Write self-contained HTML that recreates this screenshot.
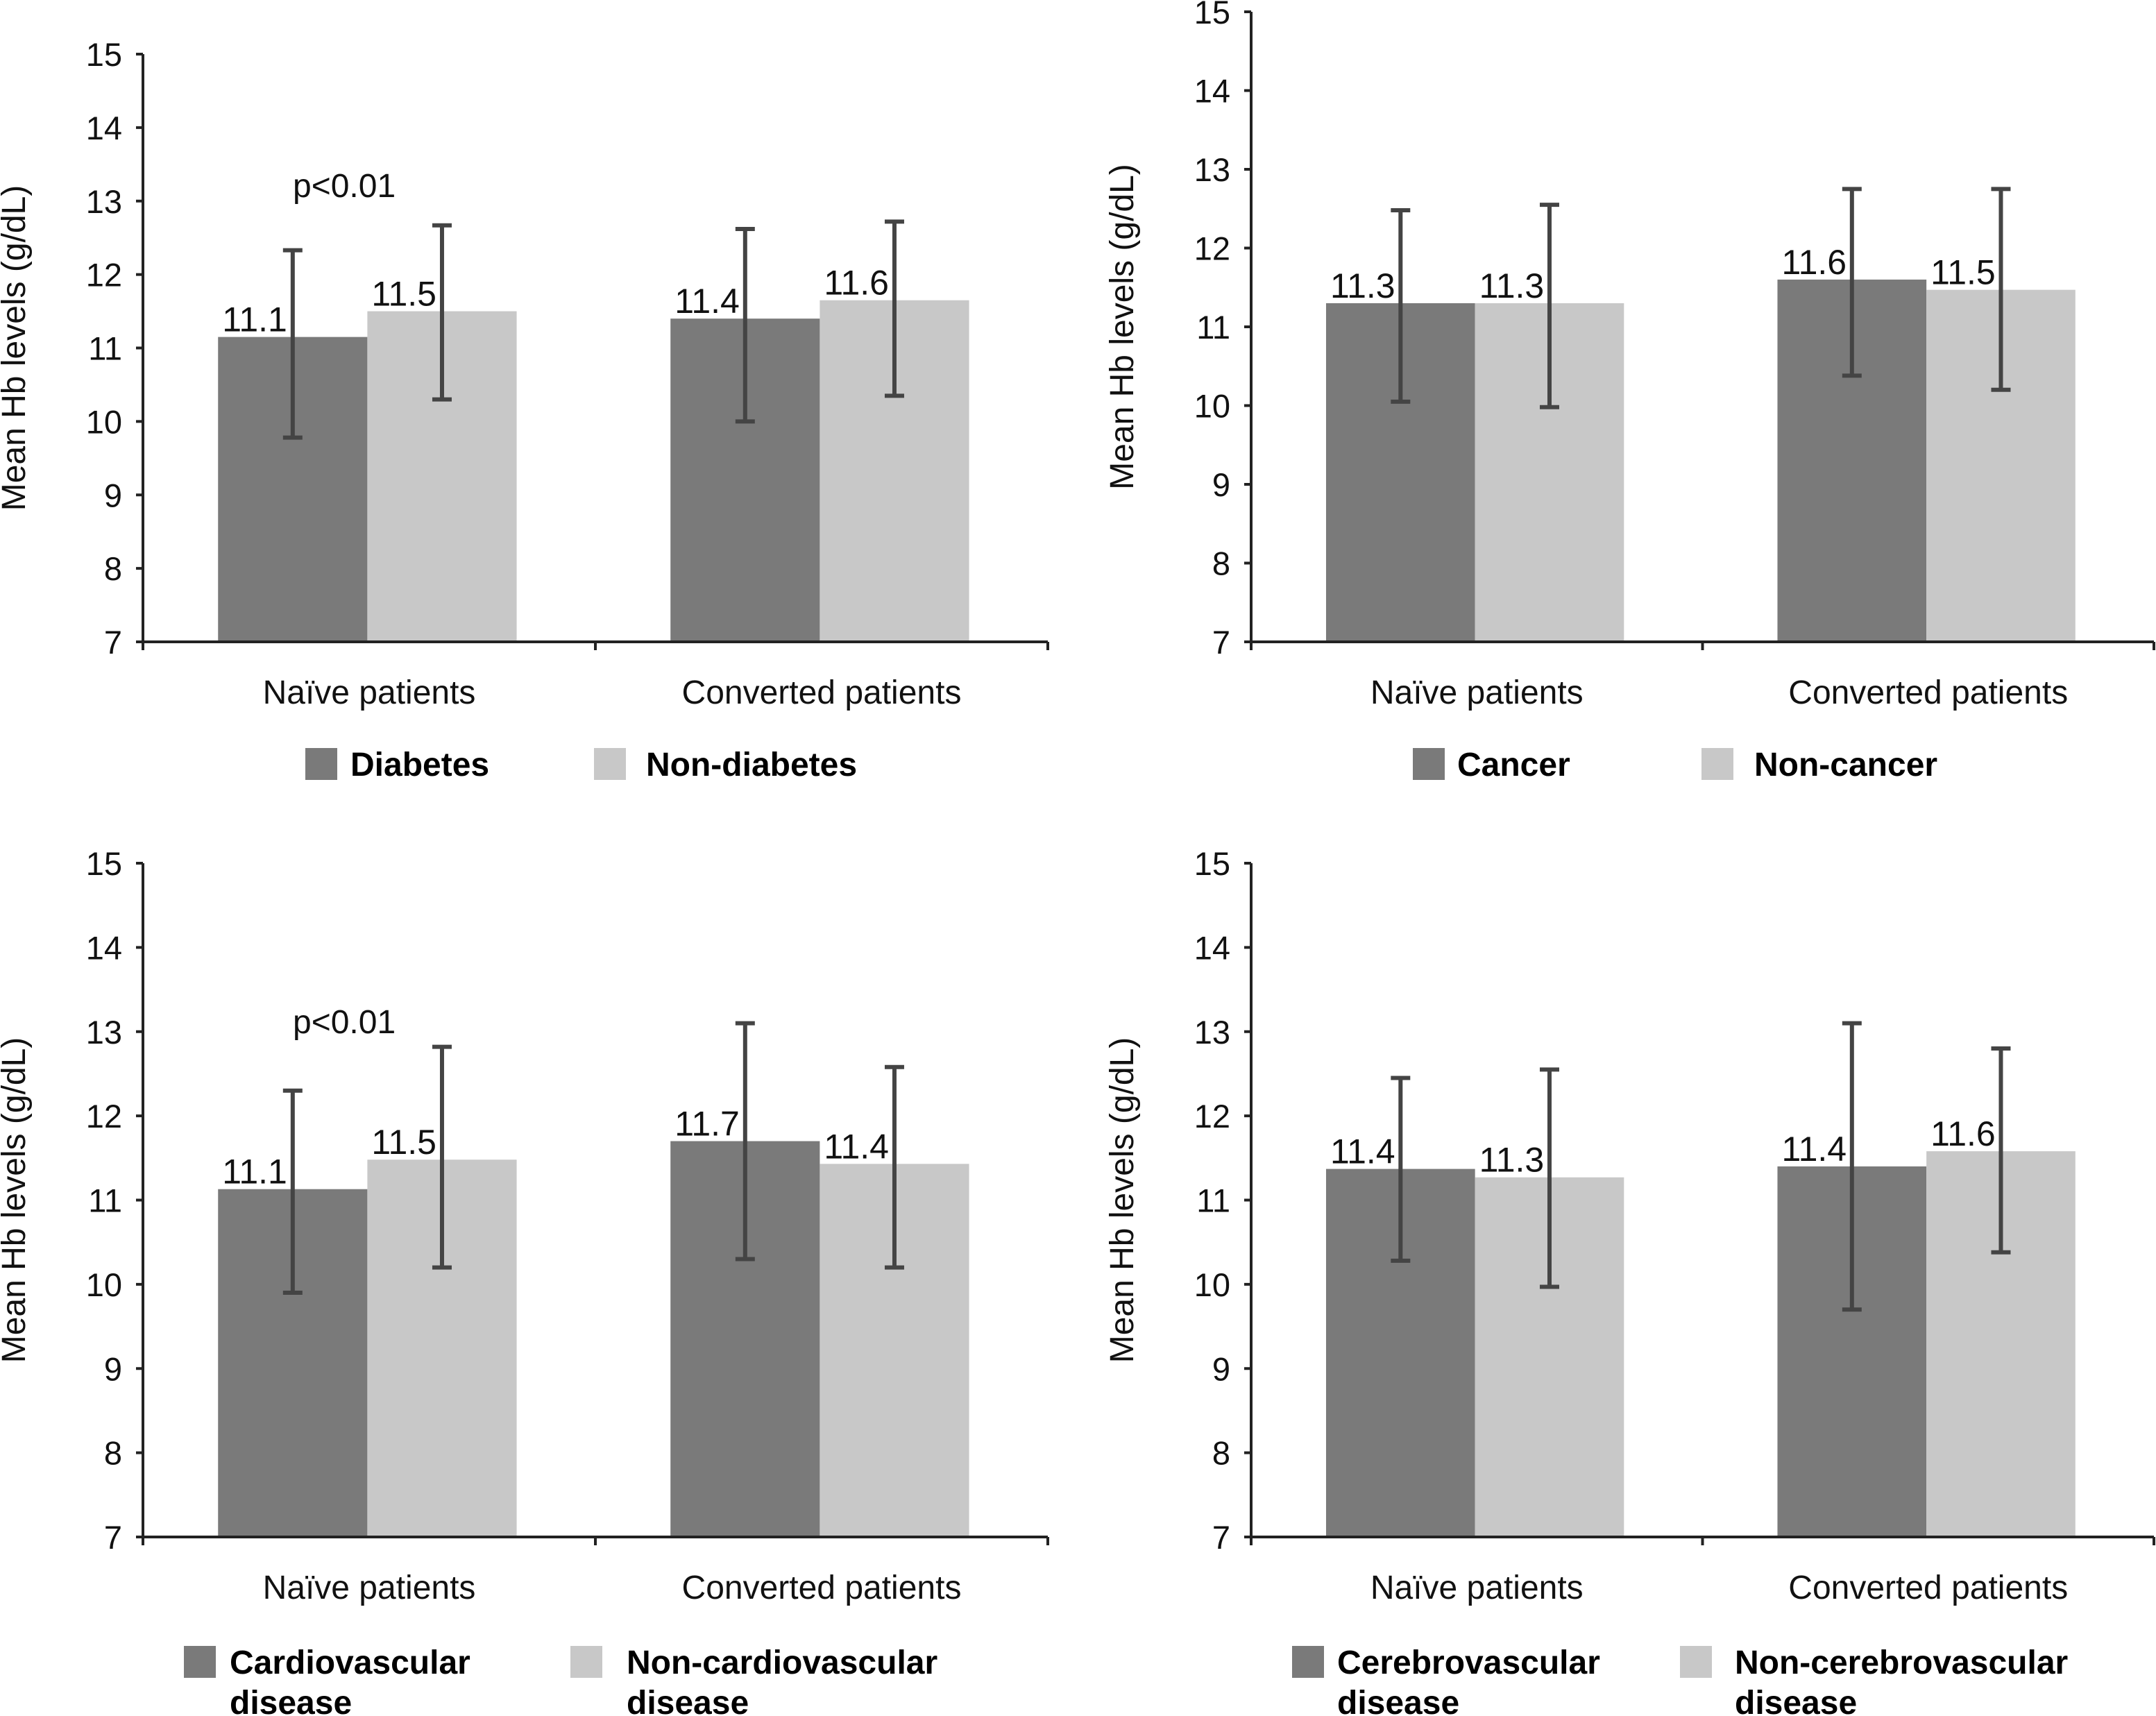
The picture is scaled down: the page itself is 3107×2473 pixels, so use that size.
<!DOCTYPE html>
<html><head><meta charset="utf-8"><style>
html,body{margin:0;padding:0;background:#fff;}
svg{display:block;font-family:"Liberation Sans",Arial,sans-serif;}
</style></head><body>
<svg id="chart" width="3107" height="2473" viewBox="0 0 3107 2473" xmlns="http://www.w3.org/2000/svg"></svg>
<script>
const categories = ["Naïve patients", "Converted patients"];
const tickLabels = [7, 8, 9, 10, 11, 12, 13, 14, 15];
// panel values: [naive group, naive non-group, converted group, converted non-group]
const diabetesMeans = [11.15, 11.5, 11.4, 11.65];
const diabetesLow = [9.78, 10.3, 10.0, 10.35];
const diabetesHigh = [12.33, 12.67, 12.62, 12.72];
const diabetesLabels = ["11.1", "11.5", "11.4", "11.6"];
const cancerMeans = [11.3, 11.3, 11.6, 11.47];
const cancerLow = [10.05, 9.98, 10.38, 10.2];
const cancerHigh = [12.48, 12.55, 12.75, 12.75];
const cancerLabels = ["11.3", "11.3", "11.6", "11.5"];
const cardioMeans = [11.13, 11.48, 11.7, 11.43];
const cardioLow = [9.9, 10.2, 10.3, 10.2];
const cardioHigh = [12.3, 12.82, 13.1, 12.58];
const cardioLabels = ["11.1", "11.5", "11.7", "11.4"];
const cerebroMeans = [11.37, 11.27, 11.4, 11.58];
const cerebroLow = [10.28, 9.97, 9.7, 10.38];
const cerebroHigh = [12.45, 12.55, 13.1, 12.8];
const cerebroLabels = ["11.4", "11.3", "11.4", "11.6"];

const NS = "http://www.w3.org/2000/svg";
const svg = document.getElementById("chart");
function mk(tag, attrs, parent, text) {
  const e = document.createElementNS(NS, tag);
  for (const k in attrs) e.setAttribute(k, attrs[k]);
  if (text !== undefined) e.textContent = text;
  (parent || svg).appendChild(e);
  return e;
}

const panels = [
  {id:"diabetes", x0:206, x1:1510, yTop:78, yBot:925, means:diabetesMeans, lo:diabetesLow, hi:diabetesHigh, labels:diabetesLabels, p:[422,267],
   legend:[{sx:440, tx:505, lines:["Diabetes"]},{sx:856, tx:931, lines:["Non-diabetes"]}], legY:1101, catY:1014},
  {id:"cancer", x0:1803, x1:3104, yTop:17, yBot:925, means:cancerMeans, lo:cancerLow, hi:cancerHigh, labels:cancerLabels, p:null,
   legend:[{sx:2036, tx:2100, lines:["Cancer"]},{sx:2452, tx:2528, lines:["Non-cancer"]}], legY:1101, catY:1014},
  {id:"cardiovascular", x0:206, x1:1510, yTop:1244, yBot:2215, means:cardioMeans, lo:cardioLow, hi:cardioHigh, labels:cardioLabels, p:[422,1472],
   legend:[{sx:265, tx:331, lines:["Cardiovascular","disease"]},{sx:822, tx:903, lines:["Non-cardiovascular","disease"]}], legY:2395, catY:2304},
  {id:"cerebrovascular", x0:1803, x1:3104, yTop:1244, yBot:2215, means:cerebroMeans, lo:cerebroLow, hi:cerebroHigh, labels:cerebroLabels, p:null,
   legend:[{sx:1862, tx:1927, lines:["Cerebrovascular","disease"]},{sx:2421, tx:2500, lines:["Non-cerebrovascular","disease"]}], legY:2395, catY:2304}
];
const colors = ["#7a7a7a", "#c8c8c8"];

panels.forEach(P => {
  const g = mk("g", {});
  
  
  const yMin = tickLabels[0], yMax = tickLabels[tickLabels.length-1];
  const y = v => P.yBot - (v - yMin) / (yMax - yMin) * (P.yBot - P.yTop);
  const catW = (P.x1 - P.x0) / categories.length;
  const barW = catW * 0.33;
  const xBar = (ci, si) => P.x0 + catW * ci + catW * 0.166 + si * barW;

  P.means.forEach((m, i) => {
    const ci = Math.floor(i / 2), si = i % 2;
    const r = mk("rect", {x:xBar(ci,si), y:y(m), width:barW, height:P.yBot - y(m), fill:colors[si]}, g);
    
    
  });
  P.means.forEach((m, i) => {
    const ci = Math.floor(i / 2), si = i % 2;
    const cx = xBar(ci,si) + barW / 2;
    const eg = mk("g", {stroke:"#444", "stroke-width":6}, g);
    
    
    mk("line", {x1:cx, x2:cx, y1:y(P.lo[i]), y2:y(P.hi[i])}, eg);
    mk("line", {x1:cx-14, x2:cx+14, y1:y(P.lo[i]), y2:y(P.lo[i])}, eg);
    mk("line", {x1:cx-14, x2:cx+14, y1:y(P.hi[i]), y2:y(P.hi[i])}, eg);
  });
  P.means.forEach((m, i) => {
    const ci = Math.floor(i / 2), si = i % 2;
    const t = mk("text", {x:xBar(ci,si) + 6, y:y(m) - 8, "font-size":50, fill:"#111"}, g, P.labels[i]);
    
    
  });
  const ax = mk("g", {stroke:"#222", "stroke-width":4}, g);
  
  
  mk("line", {x1:P.x0, x2:P.x0, y1:P.yTop, y2:P.yBot+2}, ax);
  mk("line", {x1:P.x0-2, x2:P.x1, y1:P.yBot, y2:P.yBot}, ax);
  for (let c = 0; c <= categories.length; c++) {
    const tx = P.x0 + catW * c;
    mk("line", {x1:tx, x2:tx, y1:P.yBot, y2:P.yBot+12}, ax);
  }
  tickLabels.forEach(v => {
    mk("line", {x1:P.x0-10, x2:P.x0, y1:y(v), y2:y(v)}, ax);
    const t = mk("text", {x:P.x0-30, y:y(v)+17, "font-size":47, "text-anchor":"end", fill:"#111"}, g, v);
    
    
  });
  const yt = mk("text", {transform:`translate(${P.x0-170},${(P.yTop+P.yBot)/2}) rotate(-90)`, "font-size":48, "text-anchor":"middle", fill:"#111"}, g, "Mean Hb levels (g/dL)");
  
  
  categories.forEach((c, ci) => {
    const t = mk("text", {x:P.x0 + catW*(ci+0.5), y:P.catY, "font-size":48, "text-anchor":"middle", fill:"#111"}, g, c);
    
    
  });
  if (P.p) {
    const t = mk("text", {x:P.p[0], y:P.p[1]+17, "font-size":48, fill:"#111"}, g, "p<0.01");
    
    
  }
  P.legend.forEach((L, li) => {
    const lg = mk("g", {}, g);
    
    
    mk("rect", {x:L.sx, y:P.legY-23, width:46, height:46, fill:colors[li]}, lg);
    L.lines.forEach((ln, k) => {
      mk("text", {x:L.tx, y:P.legY+17 + k*58, "font-size":48, "font-weight":"bold", fill:"#000"}, lg, ln);
    });
  });
});
</script>
</body></html>
